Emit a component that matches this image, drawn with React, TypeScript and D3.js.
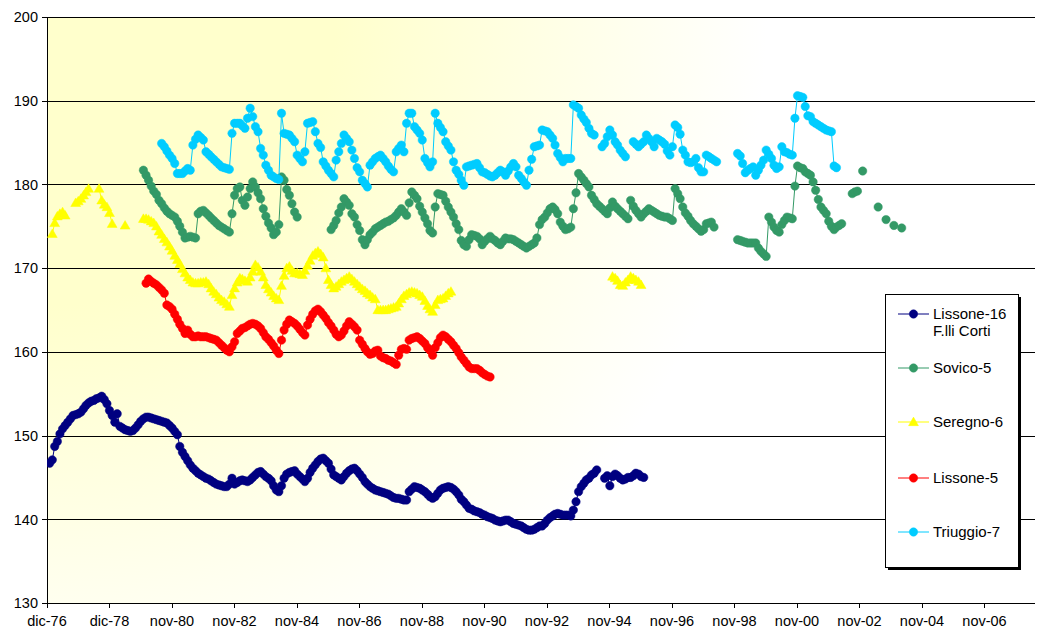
import React, { useEffect } from "react";
import * as d3 from "d3";

const WIDTH = 1037;
const HEIGHT = 632;
const PLOT = { left: 47, right: 1035, top: 17, bottom: 603 };

// Excel date axis: base 1 Dec 1976, major unit 730 days
const axisStart = new Date(1976, 11, 1);
const axisSpanDays = 11540;
const xTickStepDays = 730;
const xTickLabels = [
  "dic-76", "dic-78", "nov-80", "nov-82", "nov-84", "nov-86", "nov-88", "nov-90",
  "nov-92", "nov-94", "nov-96", "nov-98", "nov-00", "nov-02", "nov-04", "nov-06",
];
const yTicks = [130, 140, 150, 160, 170, 180, 190, 200];
const yGrid = [140, 150, 160, 170, 180, 190, 200];

// Values: monthly readings, index = months after Dec 1976
const lissone16AStart = 1;
const lissone16A = [
  146.7, 147.1, 148.7, 149.3, 150.2, 150.8, 151.2, 151.6, 152.0, 152.4, 152.5, 152.6,
  152.8, 153.2, 153.6, 153.9, 154.1, 154.2, 154.4, 154.5, 154.7, 154.3, 153.8, 153.0,
  152.4, 151.6, 152.6, 151.1, 150.9, 150.7, 150.6, 150.5, 150.6, 150.9, 151.3, 151.7,
  152.0, 152.2, 152.2, 152.1, 152.0, 151.9, 151.8, 151.7, 151.6, 151.5, 151.2, 150.9,
  150.5, 150.1, 148.7, 148.0, 147.5, 147.0, 146.5, 146.1, 145.8, 145.5, 145.3, 145.1,
  144.9, 144.8, 144.6, 144.4, 144.2, 144.1, 144.0, 143.9, 143.9, 144.2, 144.9, 144.2,
  144.4, 144.6, 144.7, 144.6, 144.5, 144.7, 145.0, 145.3, 145.6, 145.7, 145.4, 145.1,
  144.9, 144.6, 144.0, 143.5, 143.3, 144.0, 144.9, 145.4, 145.6, 145.7, 145.8, 145.4,
  145.1, 144.8, 144.5, 144.9, 145.6, 146.1, 146.5, 146.9, 147.2, 147.3, 147.0, 146.7,
  146.0, 145.3, 145.1, 144.9, 144.7, 145.1, 145.5, 145.8, 146.0, 146.1, 145.8, 145.4,
  145.0, 144.5, 144.2, 143.9, 143.7, 143.5, 143.4, 143.3, 143.2, 143.1, 143.0, 142.8,
  142.6, 142.5, 142.5, 142.4, 142.3, 142.3, 143.3, 143.6, 143.9, 143.8, 143.7, 143.5,
  143.3, 143.0, 142.7, 142.5, 142.7, 143.1, 143.5, 143.7, 143.8, 143.9, 143.8, 143.6,
  143.3, 142.9, 142.4, 142.1, 141.7, 141.3, 141.2, 141.0, 140.9, 140.8, 140.6, 140.5,
  140.3, 140.2, 140.1, 139.9, 139.8, 139.7, 139.8, 139.9, 139.9, 139.7, 139.5, 139.4,
  139.3, 139.2, 139.0, 138.8, 138.7, 138.7, 138.8, 139.0, 139.2, 139.2, 139.5, 139.9,
  140.2, 140.4, 140.6, 140.7, 140.6, 140.5, 140.5, 140.5, 140.4, 141.1, 142.1, 143.3,
  143.9, 144.3, 144.7, 144.9, 145.3, 145.5, 145.9,
];
const lissone16BStart = 214;
const lissone16B = [
  144.9, 145.2, 144.0, 145.1, 145.4, 145.2, 144.9, 144.7, 144.8, 145.0, 145.0, 145.2,
  145.5, 145.4, 145.1, 145.0,
];

const sovico5AStart = 37;
const sovico5A = [
  181.7, 181.1, 180.5, 179.8, 179.2, 178.8, 178.1, 177.7, 177.2, 176.8, 176.5, 176.3,
  176.1, 175.6, 175.0, 174.3, 173.6, 173.7, 173.8, 173.7, 173.6, 176.5, 176.8, 176.9,
  176.6, 176.3, 176.0, 175.7, 175.4, 175.1, 174.9, 174.7, 174.5, 174.3, 176.5, 178.7,
  179.5, 179.7, 178.1, 177.5, 178.5, 179.5, 180.3, 179.7, 179.0, 178.3, 177.1, 176.2,
  175.4, 174.8, 174.0, 174.3, 175.2, 180.9, 180.5, 179.4, 178.7, 177.7, 176.7, 176.1,
];
const sovico5BStart = 109;
const sovico5B = [
  174.6, 175.1, 175.7, 176.6, 177.3, 178.3, 177.9, 177.5, 176.5, 176.1, 175.2, 174.5,
  173.4, 172.8, 173.4, 174.0, 174.3, 174.7, 174.9, 175.1, 175.3, 175.5, 175.6, 175.8,
  176.0, 176.3, 176.7, 177.1, 176.7, 176.3, 177.8, 179.1, 178.7, 178.3, 177.4, 176.7,
  176.0, 175.3, 174.5, 174.2, 177.3, 178.9, 178.8, 178.7, 178.0, 177.3, 176.7, 176.1,
  175.3, 174.6, 173.3, 172.8, 172.6, 173.4, 174.0, 173.9, 173.8, 173.5, 172.8, 173.2,
  173.5, 173.8, 173.5, 173.3, 173.0, 172.8, 173.2, 173.6, 173.5, 173.5, 173.4, 173.2,
  173.0, 172.8, 172.6, 172.4, 172.6, 172.8, 173.0, 173.6, 175.2, 175.8, 176.1, 176.6,
  177.1, 177.3, 177.0, 176.5, 175.5, 175.0, 174.6, 174.7, 174.9, 177.1, 179.0, 181.3,
  180.9, 180.5, 180.1, 179.7, 178.7, 178.2, 177.7, 177.4, 177.1, 176.8, 176.5, 177.2,
  177.9, 177.4, 177.1, 176.8, 176.5, 176.2, 175.9, 178.1, 177.4, 176.9, 176.5, 176.1,
  176.5, 176.8, 177.1, 176.9, 176.7, 176.5, 176.3, 176.2, 176.1, 176.1, 175.9, 175.7,
  179.5, 178.9, 178.3, 177.3, 176.6, 176.2, 175.7, 175.3, 175.0, 174.7, 174.4, 174.6,
  175.3, 175.4, 175.5, 174.9,
];
const sovico5CStart = 265;
const sovico5C = [
  173.4, 173.3, 173.2, 173.1, 173.0, 173.0, 173.0, 173.0, 172.4, 172.0, 171.7, 171.4,
  176.1, 175.5, 174.9, 174.5, 174.3, 175.2, 175.7, 176.1, 176.0, 175.9, 179.8, 182.2,
  182.0, 181.9, 181.5, 181.3, 181.1, 180.3, 179.3, 178.2, 177.3, 176.9, 176.5, 175.6,
  175.0, 174.6, 174.9, 175.1, 175.3,
];
const sovico5DStart = 309;
const sovico5D = [178.9, 179.1, 179.2];
const sovico5LateMonths = [313, 319, 322, 325, 328];
const sovico5LateValues = [181.6, 177.3, 175.8, 175.1, 174.8];

const seregno6AStart = 2;
const seregno6A = [
  174.1, 175.4, 176.2, 176.5, 176.7, 176.3, null, null, null, 177.8, 178.0, 178.3,
  178.7, 179.1, 179.5, null, null, null, 179.5, 178.1, 177.6, 177.3, 176.6, 175.3,
];
const seregno6BStart = 30;
const seregno6B = [175.1];
const seregno6CStart = 37;
const seregno6C = [
  175.9,
  175.9, 175.8, 175.6, 175.4, 175.0, 174.4, 174.0, 173.5, 173.1, 172.6, 172.1, 171.5,
  171.0, 170.5, 169.9, 169.4, 168.9, 168.6, 168.3, 168.2, 168.2, 168.3, 168.3, 168.4,
  168.1, 167.6, 167.2, 166.9, 166.5, 166.2, 166.0, 165.7, 165.4, 166.8, 167.6, 168.3,
  168.8, 168.7, 168.5, 168.4, 168.9, 169.6, 170.4, 170.1, 169.6, 168.9, 168.0, 167.5,
  167.1, 166.7, 166.4, 166.2, 167.9, 169.1, 170.0, 170.2, 169.7, 169.4, 169.4, 169.3,
  169.2, 169.7, 170.3, 170.9, 171.5, 171.8, 172.0, 171.7, 171.3, 170.0, 168.6, 168.0,
  167.6, 167.8, 168.1, 168.4, 168.6, 168.8, 169.0, 168.7, 168.4, 168.1, 167.8, 167.5,
  167.3, 167.0, 166.8, 166.5, 166.3, 165.0, 165.0, 165.0, 165.0, 165.1, 165.2, 165.3,
  165.4, 165.8, 166.3, 166.7, 166.9, 167.1, 167.2, 167.1, 167.0, 166.8, 166.6, 166.1,
  165.5, 165.1, 164.8, 165.6, 166.2, 166.3, 166.4, 166.7, 167.0, 167.2,
];
const seregno6DStart = 217;
const seregno6D = [169.0, 168.8, 168.5, 168.0, 167.9, 168.3, 168.6, 169.0, 168.8, 168.6, 168.4, 168.0];

const lissone5Start = 38;
const lissone5 = [
  168.2, 168.7, 168.4, 168.2, 168.0, 167.7, 167.4, 167.0, 165.6, 165.4, 165.1, 164.5,
  163.9, 163.3, 162.8, 162.2, 162.6, 162.1, 161.8, 161.8, 161.9, 161.8, 161.8, 161.8,
  161.7, 161.6, 161.5, 161.4, 161.1, 160.8, 160.5, 160.2, 160.0, 160.6, 161.2, 162.2,
  162.5, 162.8, 162.9, 163.1, 163.3, 163.4, 163.3, 163.1, 162.8, 162.3, 161.8, 161.5,
  161.1, 160.7, 160.2, 159.8, 161.4, 162.6, 163.3, 163.8, 163.6, 163.4, 163.1, 162.7,
  162.3, 162.0, 163.2, 163.9, 164.5, 164.9, 165.1, 164.8, 164.4, 164.0, 163.5, 163.1,
  162.6, 162.1, 161.8, 162.0, 162.5, 163.1, 163.6, 163.3, 163.0, 162.6, 161.4, 160.9,
  160.4, 160.0, 159.7, 159.8, 160.1, 160.2, 159.5, 159.3, 159.2, 159.0, 158.9, 158.7,
  158.5, 159.6, 160.3, 160.4, 160.3, 161.4, 161.6, 161.7, 161.8, 161.6, 161.3, 161.0,
  160.5, 160.2, 159.6, 160.5, 161.1, 161.7, 162.0, 161.8, 161.5, 161.2, 160.8, 160.4,
  159.9, 159.4, 159.0, 158.6, 158.2, 158.0, 158.0, 158.0, 157.8, 157.5, 157.3, 157.1, 157.0,
];

const triuggio7AStart = 44;
const triuggio7A = [
  184.9, 184.5, 184.0, 183.5, 183.1, 182.5, 181.3, 181.3, 181.3, 181.6, 181.9, 181.7,
  184.7, 185.4, 185.9, 185.6, 185.3, 183.9, 183.6, 183.3, 183.0, 182.7, 182.4, 182.1,
  182.0, 181.9, 181.8, 186.1, 187.3, 187.3, 187.3, 187.0, 186.7, 187.9, 189.1, 188.1,
  186.9, 186.3, 184.3, 183.5, 182.3, 181.7, 181.1, 180.9, 180.7, 180.6, 188.5, 186.1,
  186.0, 185.9, 185.5, 185.1, 183.5, 183.1, 182.7, 183.9, 187.3, 187.4, 187.5, 186.3,
  184.9, 184.4, 182.7, 182.2, 181.7, 181.3, 180.9, 182.9, 183.9, 184.9, 185.9, 185.5,
  185.1, 184.1, 183.1, 182.0, 181.5, 180.5, 180.1, 179.7, 182.3, 182.7, 183.1, 183.3,
  183.5, 183.1, 182.7, 182.2, 181.8, 181.5, 183.9, 184.3, 184.7, 183.9, 187.3, 188.5,
  188.5, 186.9, 186.5, 186.1, 185.3, 183.1, 182.6, 182.1, 182.7, 188.5, 187.3, 186.8,
  186.3, 185.1, 184.6, 184.1, 182.7, 181.7, 181.2, 180.5, 179.9, 182.1, 182.2, 182.3,
  182.4, 182.5, 182.0, 181.5, 181.4, 181.2, 181.0, 180.9, 181.1, 181.4, 181.7, 181.5,
  181.1, 181.6, 182.1, 182.5, 182.1, 181.1, 180.7, 180.3, 179.9, 181.7, 183.0, 184.5,
  184.6, 184.7, 186.5, 186.4, 186.3, 185.9, 185.5, 184.7, 183.7, 183.2, 182.7, 183.1,
  183.1, 183.1, 189.5, 189.3, 189.1, 188.3, 187.8, 187.4, 186.7, 186.1, 185.9,
];
const triuggio7BStart = 213;
const triuggio7B = [184.5, 184.9, 185.7, 186.5, 185.9, 185.1, 184.7, 184.1, 183.7, 183.3];
const triuggio7CStart = 225;
const triuggio7C = [
  185.1, 184.8, 184.5, 184.8, 185.1, 185.9, 185.5, 185.1, 184.5, 185.5, 185.3, 185.1,
  184.8, 184.0, 183.5, 184.5, 187.1, 186.8, 186.0, 184.1, 183.5, 182.7, 182.6, 182.7,
  183.1, 182.0, 181.5, 181.5, 183.5, 183.3, 183.1, 182.9, 182.7,
];
const triuggio7DStart = 265;
const triuggio7D = [
  183.7, 183.4, 182.5, 181.4, 181.7, 181.9, 182.1, 181.1, 181.7, 182.3, 182.9, 184.1,
  183.6, 183.1, 182.3, 181.9, 182.1, 184.5, 183.9, 183.8, 183.6, 183.5, 187.9, 190.6,
  190.5, 190.4, 189.3, 188.2, 188.1, 187.5, 187.3, 187.1, 186.9, 186.7, 186.5, 186.4,
  186.3, 182.2, 182.0,
];

type Seg = { start: number; values: (number | null)[] };
type Series = { name: string[]; color: string; marker: "circle" | "triangle"; segs: Seg[] };

const series: Series[] = [
  {
    name: ["Lissone-16", "F.lli Corti"], color: "#000080", marker: "circle",
    segs: [
      { start: lissone16AStart, values: lissone16A },
      { start: lissone16BStart, values: lissone16B },
    ],
  },
  {
    name: ["Sovico-5"], color: "#339966", marker: "circle",
    segs: [
      { start: sovico5AStart, values: sovico5A },
      { start: sovico5BStart, values: sovico5B },
      { start: sovico5CStart, values: sovico5C },
      { start: sovico5DStart, values: sovico5D },
      ...sovico5LateMonths.map((m, i) => ({ start: m, values: [sovico5LateValues[i]] })),
    ],
  },
  {
    name: ["Seregno-6"], color: "#FFFF00", marker: "triangle",
    segs: [
      { start: seregno6AStart, values: seregno6A },
      { start: seregno6BStart, values: seregno6B },
      { start: seregno6CStart, values: seregno6C },
      { start: seregno6DStart, values: seregno6D },
    ],
  },
  {
    name: ["Lissone-5"], color: "#FF0000", marker: "circle",
    segs: [{ start: lissone5Start, values: lissone5 }],
  },
  {
    name: ["Triuggio-7"], color: "#00CCFF", marker: "circle",
    segs: [
      { start: triuggio7AStart, values: triuggio7A },
      { start: triuggio7BStart, values: triuggio7B },
      { start: triuggio7CStart, values: triuggio7C },
      { start: triuggio7DStart, values: triuggio7D },
    ],
  },
];

const monthDate = (m: number) => new Date(1976, 11 + m, 1);

const x = d3
  .scaleTime()
  .domain([axisStart, d3.timeDay.offset(axisStart, axisSpanDays)])
  .range([PLOT.left, PLOT.right]);
const y = d3.scaleLinear().domain([130, 200]).range([PLOT.bottom, PLOT.top]);

const FONT = "Liberation Sans, Arial, sans-serif";
const triPath = d3.symbol(d3.symbolTriangle, 42)() as string;

function Marker({ kind, cx, cy, color }: { kind: string; cx: number; cy: number; color: string }) {
  if (kind === "triangle") {
    return <path d={triPath} transform={`translate(${cx},${cy + 0.8})`} fill={color} stroke={color} strokeWidth={0.5} />;
  }
  return <circle cx={cx} cy={cy} r={4.2} fill={color} stroke={color} strokeWidth={0.5} />;
}

export default function App() {
  useEffect(() => {
    document.body.style.margin = "0";
    document.body.style.overflow = "hidden";
  }, []);

  const line = d3
    .line<{ m: number; v: number | null }>()
    .defined((d) => d.v != null)
    .x((d) => x(monthDate(d.m)))
    .y((d) => y(d.v as number));

  const xTicks = xTickLabels.map((label, i) => ({
    label,
    pos: x(d3.timeDay.offset(axisStart, i * xTickStepDays)),
  }));

  const legendRows = [314, 368, 422, 478, 532];

  return (
    <svg width={WIDTH} height={HEIGHT} style={{ display: "block", background: "#fff" }} fontFamily={FONT}>
      <defs>
        <radialGradient id="bg" gradientUnits="userSpaceOnUse" cx={PLOT.left} cy={PLOT.top} r={720}>
          <stop offset="0" stopColor="#FFFFCC" />
          <stop offset="0.4" stopColor="#FFFFCC" />
          <stop offset="1" stopColor="#FFFFFF" />
        </radialGradient>
        <clipPath id="plotclip">
          <rect x={PLOT.left} y={PLOT.top - 6} width={PLOT.right - PLOT.left + 2} height={PLOT.bottom - PLOT.top + 6} />
        </clipPath>
      </defs>
      <rect x={PLOT.left} y={PLOT.top} width={PLOT.right - PLOT.left} height={PLOT.bottom - PLOT.top} fill="url(#bg)" />

      {yGrid.map((t) => (
        <line key={t} x1={PLOT.left} x2={PLOT.right} y1={Math.round(y(t)) + 0.5} y2={Math.round(y(t)) + 0.5} stroke="#000" strokeWidth={1} />
      ))}

      {/* axes */}
      <line x1={PLOT.left + 0.5} x2={PLOT.left + 0.5} y1={PLOT.top} y2={PLOT.bottom} stroke="#000" />
      <line x1={PLOT.left} x2={PLOT.right} y1={PLOT.bottom + 0.5} y2={PLOT.bottom + 0.5} stroke="#000" />
      {yTicks.map((t) => (
        <g key={t}>
          <line x1={PLOT.left - 5} x2={PLOT.left} y1={Math.round(y(t)) + 0.5} y2={Math.round(y(t)) + 0.5} stroke="#000" />
          <text x={38} y={y(t)} dy="0.36em" textAnchor="end" fontSize={14.5} fill="#000">{t}</text>
        </g>
      ))}
      {xTicks.map((t) => (
        <g key={t.label}>
          <line x1={Math.round(t.pos) + 0.5} x2={Math.round(t.pos) + 0.5} y1={PLOT.bottom} y2={PLOT.bottom + 5} stroke="#000" />
          <text x={t.pos} y={626} textAnchor="middle" fontSize={14.5} fill="#000">{t.label}</text>
        </g>
      ))}

      {/* series */}
      <g clipPath="url(#plotclip)">
        {series.map((s) => (
          <g key={s.name[0]}>
            {s.segs.map((seg, si) => {
              const pts = seg.values.map((v, i) => ({ m: seg.start + i, v }));
              return (
                <g key={si}>
                  <path d={line(pts) || ""} fill="none" stroke={s.color} strokeWidth={1} />
                  {pts
                    .filter((p) => p.v != null)
                    .map((p) => (
                      <Marker key={p.m} kind={s.marker} cx={x(monthDate(p.m))} cy={y(p.v as number)} color={s.color} />
                    ))}
                </g>
              );
            })}
          </g>
        ))}
      </g>

      {/* legend */}
      <rect x={888} y={297} width={133} height={273} fill="#000" />
      <rect x={885.5} y={294.5} width={133} height={273} fill="#fff" stroke="#000" strokeWidth={1} />
      {series.map((s, i) => (
        <g key={s.name[0]}>
          <line x1={898} x2={929} y1={legendRows[i]} y2={legendRows[i]} stroke={s.color} strokeWidth={1} />
          <Marker kind={s.marker} cx={913.5} cy={legendRows[i]} color={s.color} />
          {s.name.map((n, j) => (
            <text key={n} x={933} y={legendRows[i] + j * 17} dy="0.36em" fontSize={15} fill="#000">{n}</text>
          ))}
        </g>
      ))}
    </svg>
  );
}
